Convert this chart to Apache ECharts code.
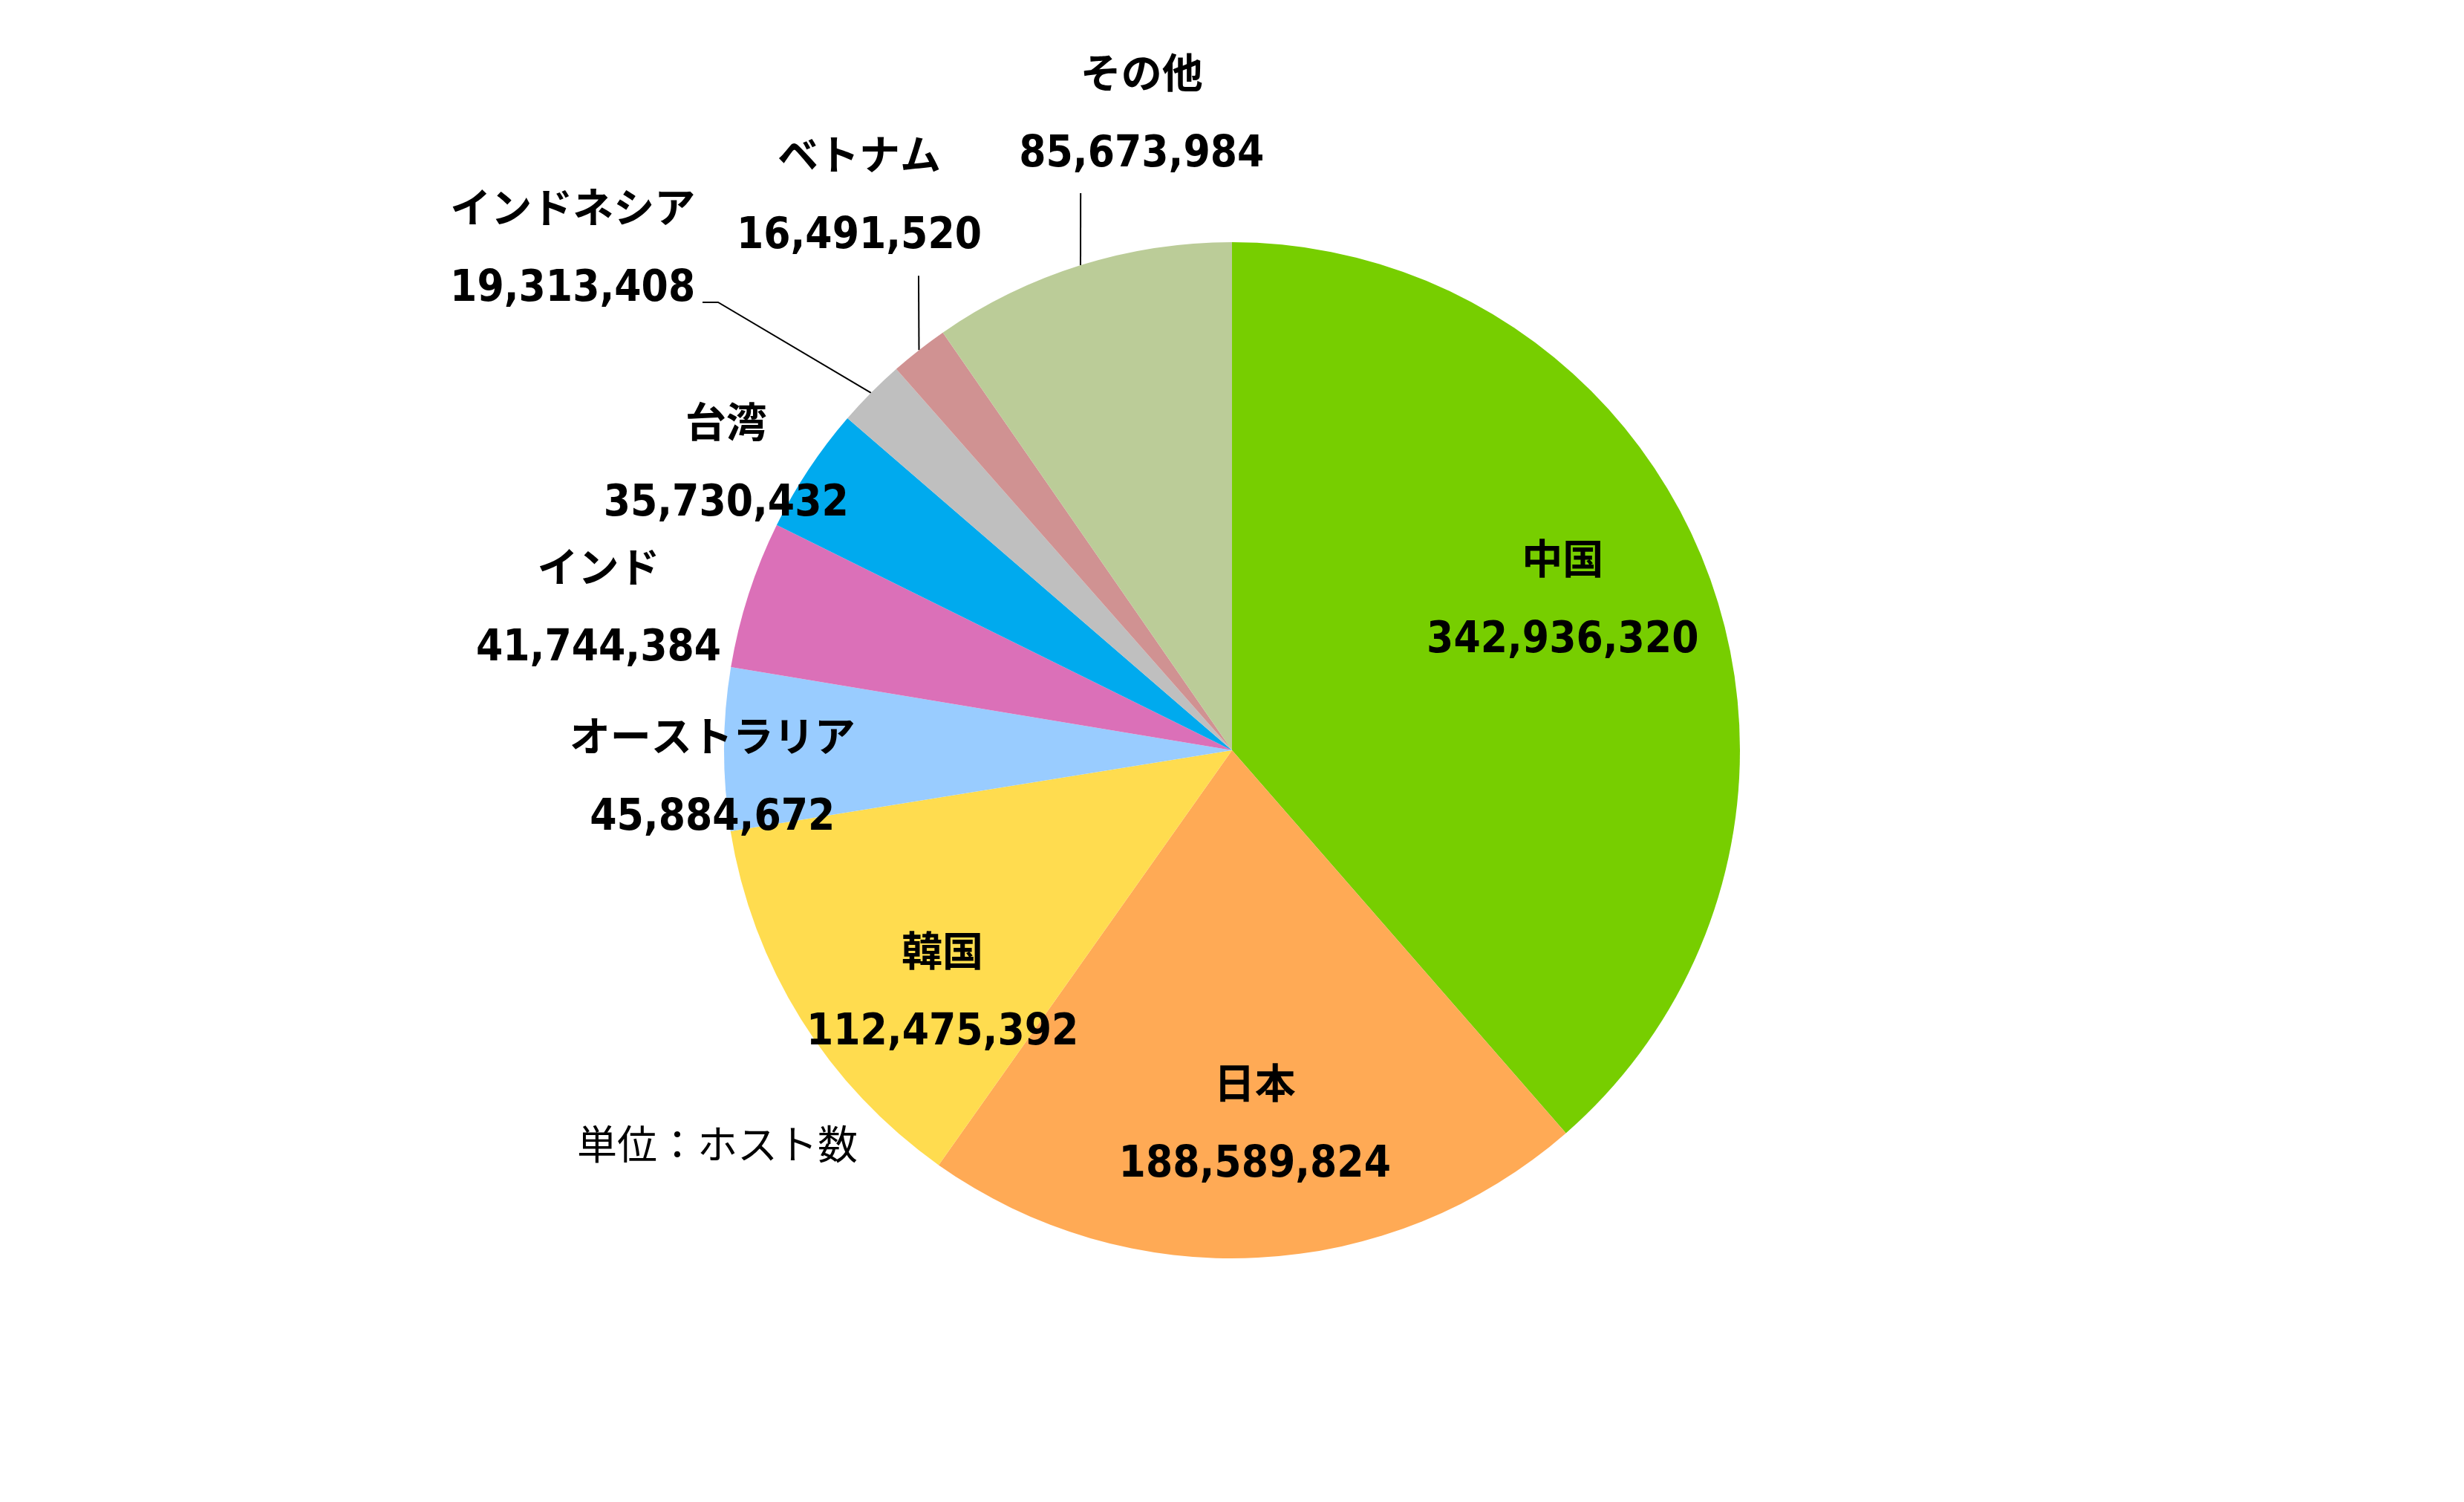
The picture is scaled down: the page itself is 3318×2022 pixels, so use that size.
<!DOCTYPE html>
<html>
<head>
<meta charset="utf-8">
<title>ホスト数</title>
<script src="https://cdn.jsdelivr.net/npm/echarts@6/dist/echarts.min.js"></script>
<style>
  html, body { margin: 0; padding: 0; background: #fff; }
  #chart { width: 3318px; height: 2022px; }
</style>
</head>
<body>
<div id="chart"></div>
<script>
// 国・地域別ホスト数
const names = ['中国', '日本', '韓国', 'オーストラリア', 'インド', '台湾', 'インドネシア', 'ベトナム', 'その他'];
const hosts = [342936320, 188589824, 112475392, 45884672, 41744384, 35730432, 19313408, 16491520, 85673984];
const colors = ['#77CE00', '#FFAA55', '#FFDC4F', '#99CCFF', '#DB70B8', '#00AAEE', '#BFBFBF', '#D09292', '#BBCC98'];
const unitText = '単位：ホスト数';

// pie geometry (px)
const CX = 1659;
const CY = 1010;
const R = 684;

// label block centres, in units of the radius, relative to the pie centre
const labelSpots = [
  [0.651, -0.294], [0.045, 0.738], [-0.570, 0.478],
  [-1.023, 0.055], [-1.247, -0.278], [-0.996, -0.563],
  [-1.298, -0.985], [-0.734, -1.089], [-0.178, -1.250]
];
// extra leader-line points after the slice edge (same units)
const leaderBends = {
  6: [[-1.0117, -0.8816], [-1.0424, -0.8816]],
  7: [[-0.617, -0.934]],
  8: [[-0.298, -1.0965]]
};

const chart = echarts.init(document.getElementById('chart'));

const pieData = names.map((n, i) => ({
  name: n,
  value: hosts[i],
  itemStyle: { color: colors[i] },
  labelLine: { show: !!leaderBends[i] }
}));

const option = {
  animation: false,
  graphic: [{
    type: 'text',
    x: 777,
    y: 1540,
    style: {
      text: unitText,
      fill: '#000',
      fontSize: 54,
      fontFamily: '"Noto Sans CJK JP"',
      align: 'left',
      verticalAlign: 'middle'
    }
  }],
  series: [{
    type: 'pie',
    center: [CX, CY],
    radius: R,
    startAngle: 90,
    clockwise: true,
    silent: true,
    avoidLabelOverlap: false,
    data: pieData,
    label: {
      show: true,
      position: 'outside',
      color: '#000',
      formatter: p => '{n|' + p.name + '}\n{v|' + p.value.toLocaleString('en-US') + '}',
      rich: {
        n: {
          fontFamily: '"Noto Sans CJK JP"',
          fontWeight: 'bold',
          fontSize: 55,
          lineHeight: 108,
          color: '#000'
        },
        v: {
          fontFamily: '"DejaVu Sans Condensed", "DejaVu Sans"',
          fontWeight: 'bold',
          fontSize: 58,
          lineHeight: 116,
          color: '#000'
        }
      }
    },
    labelLine: {
      lineStyle: { color: '#000', width: 2 }
    },
    labelLayout: function (p) {
      const spot = labelSpots[p.dataIndex];
      const out = {
        x: CX + spot[0] * R,
        y: CY + spot[1] * R,
        align: 'center',
        verticalAlign: 'middle'
      };
      const bends = leaderBends[p.dataIndex];
      if (bends && p.labelLinePoints) {
        out.labelLinePoints = [p.labelLinePoints[0]].concat(
          bends.map(b => [CX + b[0] * R, CY + b[1] * R])
        );
      }
      return out;
    }
  }]
};

chart.setOption(option);
</script>
</body>
</html>
